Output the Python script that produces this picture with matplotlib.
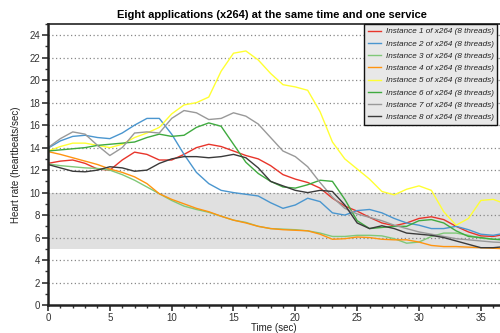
import matplotlib
matplotlib.use("Agg")
import matplotlib.pyplot as plt
from matplotlib.ticker import MultipleLocator

plt.rcParams['font.family'] = ['Liberation Sans', 'DejaVu Sans']

t = list(range(38))

inst1 = [12.6, 12.8, 12.9, 12.6, 12.1, 12.0, 12.9, 13.6, 13.4, 12.9, 12.9, 13.4, 14.0, 14.3, 14.1, 13.7,
         13.3, 13.0, 12.4, 11.6, 11.2, 10.9, 10.4, 9.5, 8.8, 8.35, 7.8, 7.3, 7.05, 7.3, 7.7, 7.85,
         7.6, 7.0, 6.5, 6.15, 6.1, 6.3]
inst2 = [13.95, 14.6, 15.0, 15.1, 14.9, 14.8, 15.3, 16.0, 16.6, 16.6, 15.2, 13.4, 11.8, 10.8, 10.2, 10.0,
         9.85, 9.7, 9.1, 8.6, 8.9, 9.5, 9.2, 8.2, 8.0, 8.4, 8.5, 8.2, 7.7, 7.3, 7.1, 6.8,
         6.8, 7.0, 6.7, 6.3, 6.2, 6.4]
inst3 = [12.55, 12.4, 12.3, 12.2, 12.15, 12.0, 11.6, 11.1, 10.5, 9.9, 9.3, 8.8, 8.5, 8.25, 7.9, 7.55,
         7.35, 7.0, 6.8, 6.75, 6.7, 6.6, 6.4, 6.1, 6.1, 6.2, 6.2, 6.15, 5.9, 5.5, 5.6, 6.1,
         6.4, 6.4, 6.2, 5.95, 5.85, 5.8]
inst4 = [13.65, 13.4, 13.1, 12.8, 12.5, 12.1, 11.8, 11.4, 10.8, 9.9, 9.4, 9.0, 8.6, 8.3, 7.9, 7.55,
         7.3, 7.0, 6.8, 6.7, 6.65, 6.6, 6.3, 5.85, 5.9, 6.05, 6.0, 5.85, 5.8, 5.8, 5.6, 5.3,
         5.2, 5.2, 5.15, 5.1, 5.05, 5.0]
inst5 = [13.7, 14.1, 14.4, 14.4, 14.2, 14.0, 14.3, 14.9, 15.3, 15.8, 17.0, 17.8, 18.0, 18.5, 20.8, 22.4,
         22.6, 21.8, 20.6, 19.6, 19.4, 19.1, 17.2, 14.5, 13.0, 12.1, 11.2, 10.1, 9.8, 10.3, 10.6, 10.2,
         8.3, 7.1, 7.7, 9.3, 9.4, 9.0]
inst6 = [13.7, 13.8, 13.9, 14.0, 14.2, 14.3, 14.4, 14.5, 14.9, 15.2, 15.0, 15.1, 15.8, 16.2, 15.9, 14.3,
         12.7, 11.7, 11.0, 10.5, 10.4, 10.7, 11.1, 11.0, 9.4, 7.5, 6.8, 6.9, 7.0, 7.0, 7.5, 7.6,
         7.3, 6.6, 6.1, 6.0, 5.85, 5.8]
inst7 = [14.0, 14.8, 15.4, 15.2, 14.2, 13.3, 14.0, 15.3, 15.4, 15.3, 16.6, 17.3, 17.1, 16.5, 16.6, 17.1,
         16.8, 16.1, 14.9, 13.7, 13.2, 12.3, 10.9, 9.6, 8.6, 8.1, 7.8, 7.5, 7.1, 6.8, 6.5, 6.3,
         6.1, 5.9, 5.8, 5.7, 5.6, 5.55]
inst8 = [12.5, 12.2, 11.9, 11.85, 12.0, 12.3, 12.2, 11.9, 12.0, 12.6, 13.0, 13.2, 13.2, 13.1, 13.2, 13.4,
         13.1, 12.2, 11.0, 10.6, 10.2, 10.0, 10.2, 10.1, 8.9, 7.3, 6.8, 7.05, 6.8, 6.4, 6.3, 6.2,
         6.0, 5.7, 5.4, 5.1, 5.1, 5.2]

series = [inst1, inst2, inst3, inst4, inst5, inst6, inst7, inst8]
labels = [f"Instance {i} of x264 (8 threads)" for i in range(1, 9)]
colors = ['#e8352b', '#4a96cf', '#80c878', '#ff9410', '#ffff33', '#3faa3f', '#999999', '#3a3a3a']

band = (5, 10)

fig = plt.figure(figsize=(5.0, 3.33), dpi=100)
ax = fig.add_axes([0.096, 0.084, 0.904, 0.844])

ax.axhspan(band[0], band[1], color='#e0e0e0', zorder=0, lw=0)
for v in range(2, 25, 2):
    ax.axhline(v, color='#888888', lw=0.9, ls=(0, (1, 2)), zorder=0.5)

for y, lab, c in zip(series, labels, colors):
    ax.plot(t, y, color=c, lw=1.0, label=lab, zorder=2)

ax.set_xlim(0, 36.55)
ax.set_ylim(0, 25)
ax.xaxis.set_major_locator(MultipleLocator(5))
ax.xaxis.set_minor_locator(MultipleLocator(1))
ax.yaxis.set_major_locator(MultipleLocator(2))
ax.yaxis.set_minor_locator(MultipleLocator(1))
ax.tick_params(which='major', direction='out', length=4, width=1.2, colors='#333333', labelsize=7, pad=1.5)
ax.tick_params(which='minor', direction='out', length=2.5, width=1.0, colors='#333333')
for s in ['left', 'bottom', 'top']:
    ax.spines[s].set_color('#222222')
ax.spines['left'].set_linewidth(1.8)
ax.spines['bottom'].set_linewidth(1.8)
ax.spines['top'].set_linewidth(1.2)
ax.spines['right'].set_visible(False)

ax.set_xlabel('Time (sec)', fontsize=7, color='#222222', labelpad=0)
ax.set_ylabel('Heart rate (heartbeats/sec)', fontsize=7, color='#222222', labelpad=6)
fig.text(0.544, 0.955, 'Eight applications (x264) at the same time and one service',
         ha='center', va='center', fontsize=8.0, fontweight='bold')

leg = ax.legend(loc='upper left', bbox_to_anchor=(0.728, 0.928), bbox_transform=fig.transFigure,
                fontsize=5.9, frameon=True, fancybox=False, borderaxespad=0, handlelength=1.6,
                handletextpad=0.6, labelspacing=0.55, borderpad=0.45)
for txt in leg.get_texts():
    txt.set_fontstyle('italic')
    txt.set_color('#222222')
fr = leg.get_frame()
fr.set_facecolor('#e8e8e8')
fr.set_edgecolor('#111111')
fr.set_linewidth(1.0)
fr.set_alpha(1)

fig.savefig('out.png', dpi=100)
